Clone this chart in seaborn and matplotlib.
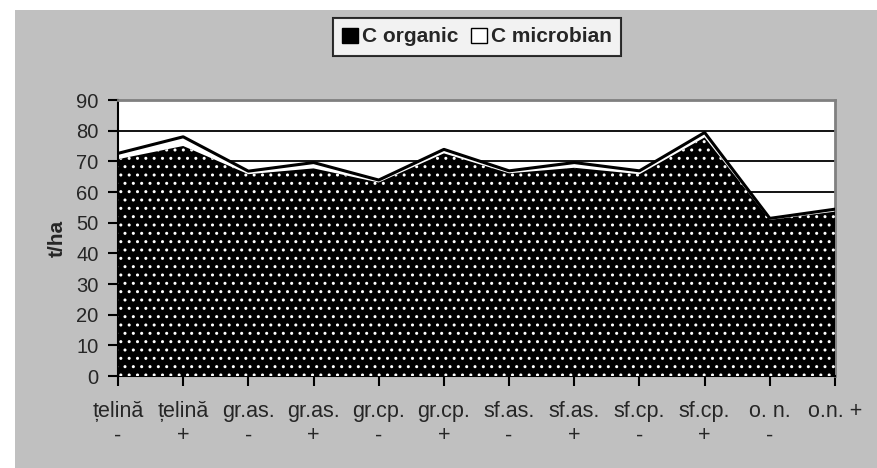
import matplotlib
matplotlib.use("Agg")
import matplotlib.pyplot as plt
from matplotlib.patches import Patch, Rectangle
import seaborn as sns
import pandas as pd
import numpy as np

categories = ["țelină\n-", "țelină\n+", "gr.as.\n-", "gr.as.\n+", "gr.cp.\n-", "gr.cp.\n+",
              "sf.as.\n-", "sf.as.\n+", "sf.cp.\n-", "sf.cp.\n+", "o. n.\n-", "o.n. +\n "]
c_organic = [70.7, 75.0, 65.8, 67.7, 63.1, 72.6, 66.1, 67.9, 65.8, 77.8, 50.9, 53.6]
c_microbian = [1.9, 3.0, 1.0, 1.9, 0.8, 1.3, 0.8, 1.7, 1.1, 1.6, 0.5, 0.8]
y_ticks = [0, 10, 20, 30, 40, 50, 60, 70, 80, 90]

sns.set_style("white")
plt.rcParams['font.family'] = ['Liberation Sans', 'DejaVu Sans']
plt.rcParams['hatch.linewidth'] = 1.0

df = pd.DataFrame({"x": np.arange(len(categories)),
                   "organic": c_organic,
                   "total": np.array(c_organic) + np.array(c_microbian)})

fig = plt.figure(figsize=(8.77, 4.68), dpi=100)
fig.patch.set_facecolor("white")
fig.patches.append(Rectangle((15/877, 0), 1 - 15/877, 1 - 10/468, transform=fig.transFigure,
                             facecolor="#c0c0c0", edgecolor="none", zorder=-10))

ax = fig.add_axes([118/877, 92/468, 717/877, 276/468])
ax.set_facecolor("white")

for v in y_ticks[1:-1]:
    ax.axhline(v, color="black", lw=1.3, zorder=1)

ax.fill_between(df["x"], 0, df["total"], facecolor="white", edgecolor="none", zorder=2)
ax.fill_between(df["x"], 0, df["organic"], facecolor="black", edgecolor="white",
                hatch="..", linewidth=0, zorder=3)
sns.lineplot(data=df, x="x", y="total", color="black", lw=2.2, ax=ax, zorder=4)

ax.set_xlim(0, len(categories) - 1)
ax.set_ylim(0, 90)
ax.set_yticks(y_ticks)
ax.set_yticklabels([str(v) for v in y_ticks], fontsize=14.5)
ax.set_xticks(np.arange(len(categories)))
ax.set_xticklabels(categories, fontsize=15.5, linespacing=1.2)
ax.set_xlabel("")
ax.set_ylabel("t/ha", fontsize=15, fontweight="bold", labelpad=7)
ax.tick_params(axis="both", which="both", direction="out", length=7, width=1.5,
               color="black", bottom=True, left=True)
ax.tick_params(axis="x", pad=11)
ax.tick_params(axis="y", pad=7)

for s in ["left", "bottom"]:
    ax.spines[s].set_color("black")
    ax.spines[s].set_linewidth(1.5)
for s in ["top", "right"]:
    ax.spines[s].set_color("#808080")
    ax.spines[s].set_linewidth(2)

handles = [Patch(facecolor="black", edgecolor="black", label="C organic"),
           Patch(facecolor="white", edgecolor="black", label="C microbian")]
leg = fig.legend(handles=handles, loc="center", bbox_to_anchor=(477/877, 1 - 37/468),
                 ncol=2, frameon=True, fancybox=False, handlelength=0.75, handleheight=0.75,
                 handletextpad=0.2, columnspacing=0.6, borderpad=0.45,
                 prop={"weight": "bold", "size": 15})
leg.get_frame().set_edgecolor("black")
leg.get_frame().set_linewidth(1.5)
leg.get_frame().set_facecolor("white")

fig.savefig("out.png", dpi=100, facecolor=fig.get_facecolor())
